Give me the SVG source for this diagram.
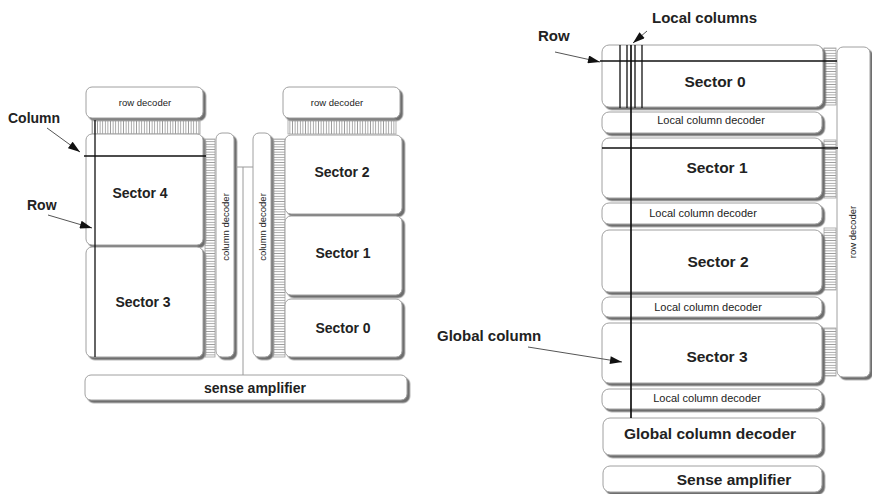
<svg xmlns="http://www.w3.org/2000/svg" width="872" height="494" viewBox="0 0 872 494">
<defs>
<filter id="ds" x="-10%" y="-10%" width="130%" height="130%">
<feDropShadow dx="2.5" dy="2.5" stdDeviation="0.6" flood-color="#6e6e6e" flood-opacity="1"/>
</filter>
<pattern id="pv" width="2.6" height="10" patternUnits="userSpaceOnUse">
<line x1="1.3" y1="0" x2="1.3" y2="10" stroke="#8a8a8a" stroke-width="0.8"/>
</pattern>
<pattern id="ph" width="10" height="2.6" patternUnits="userSpaceOnUse">
<line x1="0" y1="1.3" x2="10" y2="1.3" stroke="#8a8a8a" stroke-width="0.8"/>
</pattern>
<marker id="ah" viewBox="0 0 12 8" refX="12" refY="4" markerWidth="13" markerHeight="8" markerUnits="userSpaceOnUse" orient="auto">
<path d="M0,0 L12,4 L0,8 z" fill="#111"/>
</marker>
</defs>
<style>
.box{fill:#fff;stroke:#a0a0a0;stroke-width:1;filter:url(#ds)}
.hv{fill:url(#pv);stroke:#a0a0a0;stroke-width:0.8}
.hh{fill:url(#ph);stroke:#a0a0a0;stroke-width:0.8}
.t{font-family:"Liberation Sans",Arial,sans-serif;fill:#222;text-anchor:middle}
.lb{font-family:"Liberation Sans",Arial,sans-serif;fill:#222;font-weight:bold}
.sec{font-size:14px;font-weight:bold}
.secR{font-size:15.5px;font-weight:bold}
.sm{font-size:9.5px}
.lcd{font-size:11px}
.wire{stroke:#111;stroke-width:1.3;fill:none}
.gw{stroke:#9a9a9a;stroke-width:1;fill:none}
.arr{stroke:#555;stroke-width:1;fill:none;marker-end:url(#ah)}
</style>

<!-- LEFT DIAGRAM -->
<g id="rowdecL">
<rect class="box" x="86" y="87" width="117" height="31" rx="6"/>
<text class="t sm" x="145" y="106">row decoder</text>
</g>
<rect class="hv" x="92" y="120" width="108" height="14"/>
<g id="sector4">
<rect class="box" x="86" y="134" width="117" height="111" rx="6"/>
<text class="t sec" x="140" y="198">Sector 4</text>
</g>
<g id="sector3">
<rect class="box" x="86" y="247" width="117" height="110" rx="6"/>
<text class="t sec" x="143" y="307">Sector 3</text>
</g>
<rect class="hh" x="205" y="139" width="10" height="218"/>
<g id="coldecL">
<rect class="box" x="216" y="133" width="18" height="224" rx="6"/>
<text class="t sm" x="0" y="0" transform="translate(228.5,227) rotate(-90)">column decoder</text>
</g>
<g id="coldecR">
<rect class="box" x="253" y="133" width="18" height="224" rx="6"/>
<text class="t sm" x="0" y="0" transform="translate(265.5,227) rotate(-90)">column decoder</text>
</g>
<rect class="hh" x="273" y="139" width="12" height="218"/>
<g id="rowdecR">
<rect class="box" x="283" y="87" width="117" height="31" rx="6"/>
<text class="t sm" x="337" y="106">row decoder</text>
</g>
<rect class="hv" x="288" y="120" width="108" height="14"/>
<g id="sector2">
<rect class="box" x="285" y="135" width="117" height="79" rx="6"/>
<text class="t sec" x="342" y="177">Sector 2</text>
</g>
<g id="sector1">
<rect class="box" x="285" y="216" width="117" height="79" rx="6"/>
<text class="t sec" x="343" y="258">Sector 1</text>
</g>
<g id="sector0">
<rect class="box" x="285" y="299" width="117" height="58" rx="6"/>
<text class="t sec" x="343" y="333">Sector 0</text>
</g>
<g id="senseampL">
<rect class="box" x="85" y="375" width="322" height="25" rx="6"/>
<text class="t" x="255" y="393" style="font-size:14px;font-weight:bold">sense amplifier</text>
</g>
<g id="labelsL">
<text class="lb" x="8" y="123" style="font-size:14px">Column</text>
<text class="lb" x="27" y="210" style="font-size:14px">Row</text>
</g>

<!-- RIGHT DIAGRAM -->
<g id="rowdecRt">
<rect class="box" x="837" y="47" width="33" height="330" rx="6"/>
<text class="t sm" x="0" y="0" transform="translate(856,232) rotate(-90)">row decoder</text>
</g>
<rect class="hh" x="824" y="48" width="12" height="57"/>
<rect class="hh" x="824" y="140" width="12" height="58"/>
<rect class="hh" x="824" y="228" width="12" height="62"/>
<rect class="hh" x="824" y="328" width="12" height="48"/>
<g id="rsector0">
<rect class="box" x="602" y="45" width="221" height="62" rx="7"/>
<text class="t secR" x="715" y="87">Sector 0</text>
</g>
<g id="lcd1">
<rect class="box" x="602" y="112" width="220" height="21" rx="7"/>
<text class="t lcd" x="711" y="124">Local column decoder</text>
</g>
<g id="rsector1">
<rect class="box" x="602" y="138" width="220" height="60" rx="7"/>
<text class="t secR" x="717" y="173">Sector 1</text>
</g>
<g id="lcd2">
<rect class="box" x="602" y="203" width="220" height="21" rx="7"/>
<text class="t lcd" x="703" y="217">Local column decoder</text>
</g>
<g id="rsector2">
<rect class="box" x="602" y="230" width="220" height="62" rx="7"/>
<text class="t secR" x="718" y="267">Sector 2</text>
</g>
<g id="lcd3">
<rect class="box" x="602" y="297" width="220" height="20" rx="7"/>
<text class="t lcd" x="708" y="311">Local column decoder</text>
</g>
<g id="rsector3">
<rect class="box" x="602" y="323" width="220" height="60" rx="7"/>
<text class="t secR" x="717" y="362">Sector 3</text>
</g>
<g id="lcd4">
<rect class="box" x="602" y="389" width="220" height="20" rx="7"/>
<text class="t lcd" x="707" y="402">Local column decoder</text>
</g>
<g id="gcd">
<rect class="box" x="603" y="418" width="219" height="37" rx="7"/>
<text class="t" x="710" y="439" style="font-size:15.5px;font-weight:bold">Global column decoder</text>
</g>
<g id="senseampR">
<rect class="box" x="603" y="466" width="219" height="26" rx="7"/>
<text class="t" x="734" y="485" style="font-size:15.5px;font-weight:bold">Sense amplifier</text>
</g>
<g id="labelsR">
<text class="lb" x="652" y="23" style="font-size:15px">Local columns</text>
<text class="lb" x="538" y="41" style="font-size:15px">Row</text>
<text class="lb" x="437" y="341" style="font-size:15px">Global column</text>
</g>

<!-- CONNECTORS / LINES -->
<g id="connectors">
<line class="wire" x1="95" y1="120" x2="95" y2="357"/>
<line class="wire" x1="84" y1="156" x2="206" y2="156"/>
<polyline class="gw" points="236,167 253,167"/>
<line class="gw" x1="243" y1="167" x2="243" y2="375"/>
<line class="wire" x1="600" y1="61" x2="837" y2="61"/>
<line class="wire" x1="602" y1="148" x2="838" y2="148"/>
<line class="wire" x1="620" y1="45" x2="620" y2="108"/>
<line class="wire" x1="627" y1="45" x2="627" y2="108"/>
<line class="wire" x1="635" y1="45" x2="635" y2="108"/>
<line class="wire" x1="642" y1="45" x2="642" y2="108"/>
<line class="wire" x1="631" y1="45" x2="631" y2="418" style="stroke-width:1.7"/>
<line class="arr" x1="47" y1="128" x2="80" y2="152"/>
<line class="arr" x1="48" y1="215" x2="92" y2="228"/>
<line class="arr" x1="555" y1="52" x2="600" y2="62"/>
<line class="arr" x1="647" y1="31" x2="633" y2="43"/>
<line class="arr" x1="528" y1="347" x2="622" y2="362"/>
</g>
</svg>
